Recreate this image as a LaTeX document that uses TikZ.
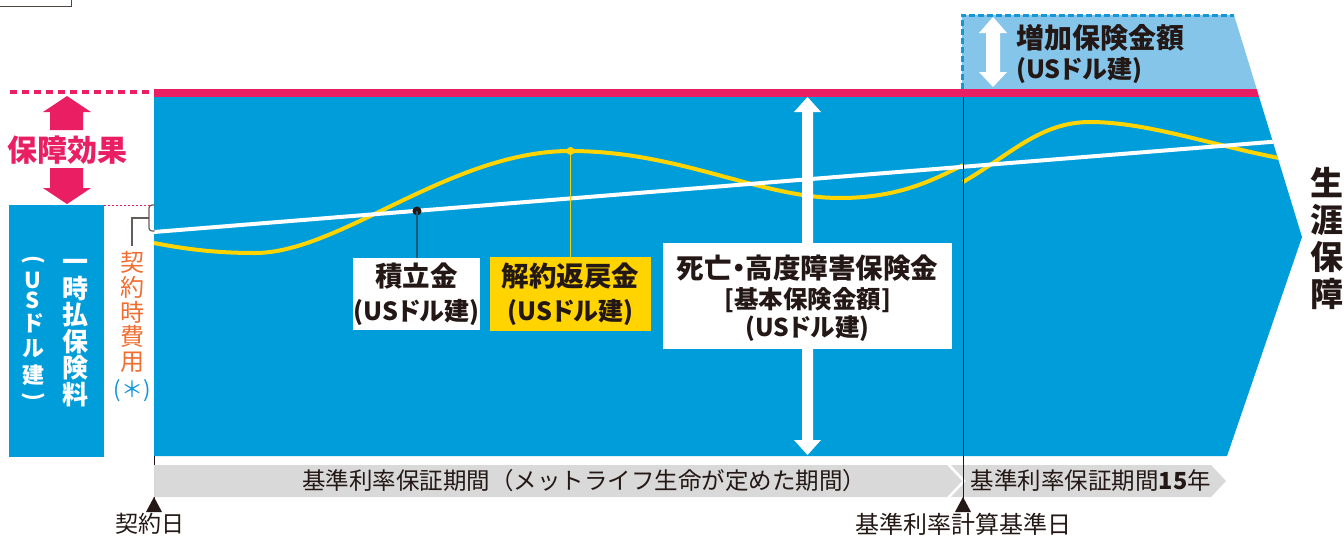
\documentclass[tikz,border=0pt]{standalone}
\usepackage{fontspec}
\setmainfont{Noto Sans CJK JP}
\newfontfamily\pj{Noto Sans CJK JP}[RawFeature=+palt]
\newcommand\myfs[2]{\fontsize{#1}{#2}\selectfont}
\newcommand\usd{{\myfs{25}{30}(USドル建)}}
\definecolor{mblue}{RGB}{0,157,219}
\definecolor{lblue}{RGB}{134,197,234}
\definecolor{dblue}{RGB}{20,150,215}
\definecolor{mpink}{RGB}{233,30,99}
\definecolor{myellow}{RGB}{255,212,0}
\definecolor{mgray}{RGB}{217,217,217}
\definecolor{morange}{RGB}{240,110,50}
\definecolor{ink}{RGB}{35,24,21}
\definecolor{mteal}{RGB}{28,90,120}
\begin{document}
\begin{tikzpicture}[x=1pt,y=-1pt,
  txt/.style={inner sep=0pt, outer sep=0pt, text=ink, align=center},
  lbl/.style={txt, font=\pj\bfseries\myfs{27.5}{34}},
  sub/.style={txt, font=\pj\bfseries\myfs{24.5}{30}},
  band/.style={txt, font=\myfs{23.5}{28}},
  vwhite/.style={inner sep=0pt, text=white, font=\bfseries\myfs{22}{24}},
  marker/.style={fill=ink},
]
\useasboundingbox (0,0) rectangle (1344,536);
\fill[white] (0,0) rectangle (1344,536);

% top-left frame fragment
\draw[ink!80, line width=1] (0,6.5)--(71,6.5)--(71,0);

% light blue increase region
\fill[lblue] (962,15)--(1234,15)--(1256.7,89)--(962,89)--cycle;
\draw[dblue, line width=3, dash pattern=on 6 off 3] (962,89)--(962,15)--(1234,15);
% pink band
\fill[mpink] (154,89)--(1256.7,89)--(1259.1,97)--(154,97)--cycle;
% main blue region
\fill[mblue] (154,97)--(1259.1,97)--(1302,237)--(1227,456)--(154,456)--cycle;

\begin{scope}
\clip (154,97)--(1259.1,97)--(1302,237)--(1227,456)--(154,456)--cycle;
\draw[myellow, line width=4] (154,243) .. controls (190,250) and (220,253) .. (255,253)
  .. controls (340,253) and (450,151) .. (570,151)
  .. controls (680,151) and (760,198) .. (840,198)
  .. controls (900,198) and (935,179) .. (963,165);
\draw[myellow, line width=4] (963,182) .. controls (1010,155) and (1040,122) .. (1090,122)
  .. controls (1150,122) and (1220,148) .. (1290,160);
\draw[white, line width=4] (154,232)--(1290,140.4);
\end{scope}

% pink dotted level lines and arrows
\draw[mpink, line width=3.5, dash pattern=on 7 off 5] (10,92)--(150,92);
\draw[mpink, line width=0.8, dash pattern=on 2 off 2] (104,205)--(150,205);
\fill[mpink] (50,130)--(50,112)--(43,112)--(67,96)--(91,112)--(83,112)--(83,130)--cycle;
\fill[mpink] (50,168)--(83,168)--(83,188)--(91,188)--(67,204)--(43,188)--(50,188)--cycle;
\node[txt, text=mpink, font=\bfseries\myfs{30}{32}] (effect) at (67,150) {保障効果};

% premium box
\fill[mblue] (9,205) rectangle (104,457);
\node[txt, text=white, font=\bfseries\myfs{26}{26.5}] (premium) at (75,333) {一\\時\\払\\保\\険\\料};
\node[vwhite, rotate=-90] (pL) at (33,260) {(};
\node[vwhite] (pU) at (33,280) {U};
\node[vwhite] (pS) at (33,300) {S};
\node[vwhite] (pDo) at (33,323) {ド};
\node[vwhite] (pRu) at (33,349) {ル};
\node[vwhite] (pKen) at (33,375) {建};
\node[vwhite, rotate=-90] (pR) at (33,397) {)};

% contract cost
\node[txt, text=morange, font=\myfs{24}{24.6}] (cost) at (132,312) {契\\約\\時\\費\\用};
\node[txt, text=dblue, font=\myfs{22}{24}] (ast) at (132,391) {(＊)};
\draw[ink!70, line width=1.2] (cost.north) ++(0,-6) -- (132,218) coordinate (bk) -- (149,218);
\draw[ink!70, line width=1.2, rounded corners=3] (154.5,205)--(149,205)--(149,231)--(154.5,231);

% central white double arrow
\fill[white] (802,440)--(802,112)--(794,112)--(807.5,97)--(821,112)--(813,112)--(813,440)--(821,440)--(807.5,455)--(794,440)--cycle;
% white arrow in increase region
\fill[white] (986,72)--(986,33)--(979,33)--(993,17)--(1007,33)--(1000,33)--(1000,72)--(1007,72)--(993,87)--(979,72)--cycle;
\node[txt, anchor=west, align=left, font=\pj\bfseries\myfs{28}{30}] (incr) at (1016,54) {増加保険金額\\\usd};

% vertical divider at rate calc date
\draw[ink, line width=1] (963,97)--(963,500);
\draw[ink, line width=1] (154,456)--(154,500);

% gray period bands
\fill[mgray] (154,465)--(947,465)--(962,481)--(947,497)--(154,497)--cycle;
\fill[mgray] (951,465)--(1211,465)--(1226,481)--(1211,497)--(951,497)--(966,481)--cycle;
\draw[ink, line width=1] (963,465)--(963,500);
\node[band] (band1) at (584,481) {基準利率保証期間（メットライフ生命が定めた期間）};
\node[band] (band2) at (1091,481) {基準利率保証期間{\pj\bfseries 15}年};

% markers
\fill[marker] (146,512)--(162,512)--(154,497)--cycle;
\fill[marker] (955,512)--(971,512)--(963,497)--cycle;
\node[txt, font=\myfs{23}{26}] (contract) at (150,524) {契約日};
\node[txt, font=\myfs{24}{26}] (calcdate) at (963,524) {基準利率計算基準日};

% label boxes
\node[fill=white, minimum width=127, minimum height=72, inner sep=0] (boxA) at (416.5,294) {};
\node[lbl] (tA) at (boxA) {積立金\\\usd};
\node[fill=myellow, minimum width=161, minimum height=74, inner sep=0] (boxB) at (570.5,294) {};
\node[lbl] (tB) at (boxB) {解約返戻金\\\usd};
\node[circle, fill=ink, inner sep=0, minimum size=9] (dotA) at (417,211) {};
\node[circle, fill=myellow, inner sep=0, minimum size=8] (dotB) at (570.5,151) {};
\draw[mteal, line width=1.6] (dotA.center) -- (dotA.center |- boxA.north);
\draw[myellow, line width=1.6] (dotB.center) -- (dotB.center |- boxB.north);

\node[fill=white, minimum width=289, minimum height=106, inner sep=0] (boxC) at (807.5,296) {};
\node[lbl, font=\pj\bfseries\myfs{27.5}{30}] (tC1) at (807.5,268) {死亡・高度障害保険金};
\node[sub] (tC2) at (807.5,300) {[基本保険金額]};
\node[sub] (tC3) at (807.5,329) {(USドル建)};

% lifelong coverage
\node[txt, font=\bfseries\myfs{33}{37}] (life) at (1327,238) {生\\涯\\保\\障};
\end{tikzpicture}
\end{document}
